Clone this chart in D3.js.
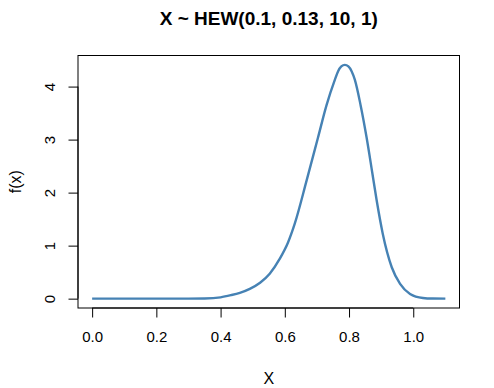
<!DOCTYPE html>
<html>
<head>
<meta charset="utf-8">
<script src="https://cdn.jsdelivr.net/npm/d3@7"></script>
<style>
  body { margin: 0; background: #fff; }
  text { font-family: "Liberation Sans", Arial, sans-serif; fill: #000; }
</style>
</head>
<body>
<script>
// values
var xVals = [0, 0.1, 0.2, 0.3, 0.35, 0.4, 0.432, 0.460, 0.491, 0.523, 0.553, 0.584, 0.610, 0.631,
             0.668, 0.703, 0.730, 0.756, 0.766, 0.776, 0.787, 0.798, 0.808, 0.818, 0.836, 0.855,
             0.872, 0.886, 0.905, 0.933, 0.959, 0.990, 1.030, 1.06, 1.1];
var yVals = [0, 0, 0, 0, 0.003, 0.025, 0.065, 0.11, 0.185, 0.30, 0.47, 0.75, 1.06, 1.414,
             2.23, 3.03, 3.65, 4.13, 4.29, 4.38, 4.41, 4.38, 4.29, 4.13, 3.65, 3.03,
             2.39, 1.855, 1.225, 0.592, 0.278, 0.089, 0.013, 0.002, 0];
var xTicks = [0, 0.2, 0.4, 0.6, 0.8, 1.0];
var yTicks = [0, 1, 2, 3, 4];
var title = "X ~ HEW(0.1, 0.13, 10, 1)";

var W = 494, H = 388;
var box = {left: 78, right: 459.5, top: 55.5, bottom: 308};

var data = xVals.map(function(x, i) { return [x, yVals[i]]; });

// R style 4% padding on both axes
var xr = d3.extent(xVals), yr = d3.extent(yVals);
var xp = (xr[1] - xr[0]) * 0.04, yp = (yr[1] - yr[0]) * 0.04;

var x = d3.scaleLinear().domain([xr[0] - xp, xr[1] + xp]).range([box.left, box.right]);
var y = d3.scaleLinear().domain([yr[0] - yp, yr[1] + yp]).range([box.bottom, box.top]);

var svg = d3.select("body").append("svg")
    .attr("width", W)
    .attr("height", H);

// curve
var line = d3.line()
    .x(function(d) { return x(d[0]); })
    .y(function(d) { return y(d[1]); })
    .curve(d3.curveMonotoneX);

svg.append("path")
    .datum(data)
    .attr("d", line)
    .attr("fill", "none")
    .attr("stroke", "#4682b4")
    .attr("stroke-width", 2.4)
    .attr("stroke-linejoin", "round");

// box
svg.append("rect")
    .attr("x", box.left)
    .attr("y", box.top)
    .attr("width", box.right - box.left)
    .attr("height", box.bottom - box.top)
    .attr("fill", "none")
    .attr("stroke", "#000")
    .attr("stroke-width", 1);

// x axis
var xAxis = d3.axisBottom(x)
    .tickValues(xTicks)
    .tickSize(9.5)
    .tickPadding(14)
    .tickFormat(d3.format(".1f"));

var gx = svg.append("g")
    .attr("transform", "translate(0," + box.bottom + ")")
    .call(xAxis);
gx.select(".domain").attr("d", "M" + x(0) + ",0H" + x(1));
gx.selectAll("text").style("font-size", "15px");

// y axis
var yAxis = d3.axisLeft(y)
    .tickValues(yTicks)
    .tickSize(9.5)
    .tickFormat(d3.format("d"));

var gy = svg.append("g")
    .attr("transform", "translate(" + box.left + ",0)")
    .call(yAxis);
gy.select(".domain").attr("d", "M0," + y(0) + "V" + y(4));
gy.selectAll(".tick text")
    .attr("x", null)
    .attr("text-anchor", "middle")
    .attr("transform", "translate(-28,0) rotate(-90)")
    .attr("dy", "0.35em")
    .style("font-size", "15px");

svg.selectAll(".domain, .tick line").attr("stroke", "#000");

// titles
svg.append("text")
    .attr("x", (box.left + box.right) / 2)
    .attr("y", 25)
    .attr("text-anchor", "middle")
    .style("font-size", "19px")
    .style("font-weight", "bold")
    .text(title);

svg.append("text")
    .attr("x", (box.left + box.right) / 2)
    .attr("y", 383.5)
    .attr("text-anchor", "middle")
    .style("font-size", "16px")
    .text("X");

svg.append("text")
    .attr("transform", "translate(20.5," + ((box.top + box.bottom) / 2) + ") rotate(-90)")
    .attr("text-anchor", "middle")
    .style("font-size", "16px")
    .text("f(x)");
</script>
</body>
</html>
